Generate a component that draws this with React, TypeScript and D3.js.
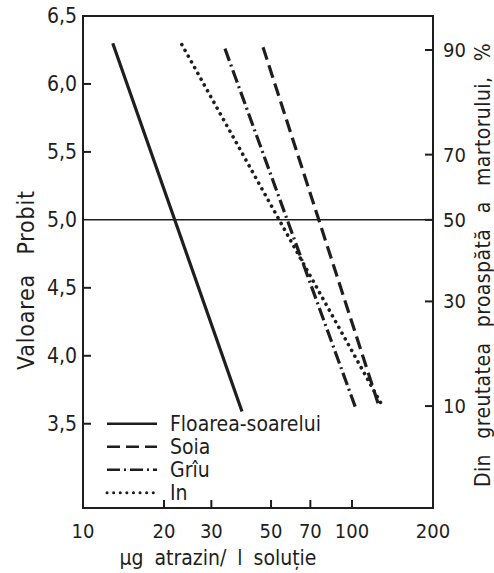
import React from "react";
import * as d3 from "d3";

const seriesNames = ["Floarea-soarelui", "Soia", "Grîu", "In"];
const concStart = [12.9, 46.7, 33.7, 23.3];
const concEnd = [39.0, 125, 103, 129];
const probitStart = [6.3, 6.27, 6.26, 6.29];
const probitEnd = [3.59, 3.65, 3.62, 3.64];

const xTicks = [10, 20, 30, 50, 70, 100, 200];
const yTicks = [3.5, 4.0, 4.5, 5.0, 5.5, 6.0, 6.5];
const rightLabels = [90, 70, 50, 30, 10];
const rightProbits = [6.25, 5.48, 5.0, 4.4, 3.63];

const W = 494;
const H = 573;
const margin = {top: 16, right: 61, bottom: 65, left: 83};
const FONT = "'Liberation Sans Narrow', 'DejaVu Sans Condensed', 'Arial Narrow', sans-serif";
const INK = "#1e1e1e";

// dash patterns per series
const dashes = ["none", "13,6", "13,4,2,4", "0.1,6.5"];

export default function App() {
    const x = d3.scaleLog().domain([10, 200]).range([margin.left, W - margin.right]);
    const y = d3.scaleLinear().domain([2.88, 6.5]).range([H - margin.bottom, margin.top]);

    const line = d3.line<[number, number]>()
        .x(d => x(d[0]))
        .y(d => y(d[1]));

    const x0 = x(10), x1 = x(200), yTop = y(6.5), yBot = y(2.88);
    const fmt = (v: number) => v.toFixed(1).replace(".", ",");

    return (
        <svg width={W} height={H} style={{position: "absolute", left: 0, top: 0, background: "#fff"}}
             fontFamily={FONT} fill={INK}>
            {/* frame */}
            <rect x={x0} y={yTop} width={x1 - x0} height={yBot - yTop} fill="none" stroke={INK} strokeWidth={2}/>
            {/* probit 5 reference line */}
            <line x1={x0} x2={x1} y1={y(5)} y2={y(5)} stroke={INK} strokeWidth={1.5}/>

            {/* left axis */}
            {yTicks.map(t => (
                <g key={"yl" + t}>
                    {t !== 6.5 && t !== 5.0 &&
                        <line x1={x0} x2={x0 + 8} y1={y(t)} y2={y(t)} stroke={INK} strokeWidth={2}/>}
                    <text x={x0 - 6} y={y(t)} dy="0.35em" textAnchor="end" fontSize={21}>{fmt(t)}</text>
                </g>
            ))}

            {/* bottom axis */}
            {xTicks.map(t => (
                <g key={"xb" + t}>
                    {t !== 10 && t !== 200 &&
                        <line x1={x(t)} x2={x(t)} y1={yBot} y2={yBot - 8} stroke={INK} strokeWidth={2}/>}
                    <text x={x(t)} y={yBot + 30} textAnchor="middle" fontSize={20}>{t}</text>
                </g>
            ))}

            {/* right axis */}
            {rightLabels.map((lab, i) => (
                <g key={"yr" + lab}>
                    <line x1={x1} x2={x1 - 8} y1={y(rightProbits[i])} y2={y(rightProbits[i])} stroke={INK} strokeWidth={2}/>
                    <text x={x1 + 10} y={y(rightProbits[i])} dy="0.35em" fontSize={20}>{lab}</text>
                </g>
            ))}

            {/* series */}
            {seriesNames.map((name, i) => (
                <path key={name}
                      d={line([[concStart[i], probitStart[i]], [concEnd[i], probitEnd[i]]]) || ""}
                      fill="none" stroke={INK} strokeWidth={i === 3 ? 3.6 : 3.2}
                      strokeDasharray={dashes[i]} strokeLinecap={i === 3 ? "round" : "butt"}/>
            ))}

            {/* legend */}
            {seriesNames.map((name, i) => {
                const ly = y(3.5) + i * 23;
                return (
                    <g key={"lg" + name}>
                        <line x1={107} x2={157} y1={ly} y2={ly} stroke={INK} strokeWidth={i === 3 ? 3 : 2.5}
                              strokeDasharray={dashes[i]} strokeLinecap={i === 3 ? "round" : "butt"}/>
                        <text x={170} y={ly} dy="0.35em" fontSize={21}>{name}</text>
                    </g>
                );
            })}

            {/* axis titles */}
            <text x={218} y={565} textAnchor="middle" fontSize={21} style={{wordSpacing: "5px"}}>
                µg atrazin/ l soluție
            </text>
            <text transform={`translate(34,280) rotate(-90)`} textAnchor="middle" fontSize={23}
                  style={{wordSpacing: "12px"}} letterSpacing={0.8}>
                Valoarea Probit
            </text>
            <text transform={`translate(490,265) rotate(-90)`} textAnchor="middle" fontSize={21}
                  style={{wordSpacing: "9px"}} letterSpacing={0.4}>
                Din greutatea proaspătă a martorului, %
            </text>
        </svg>
    );
}
